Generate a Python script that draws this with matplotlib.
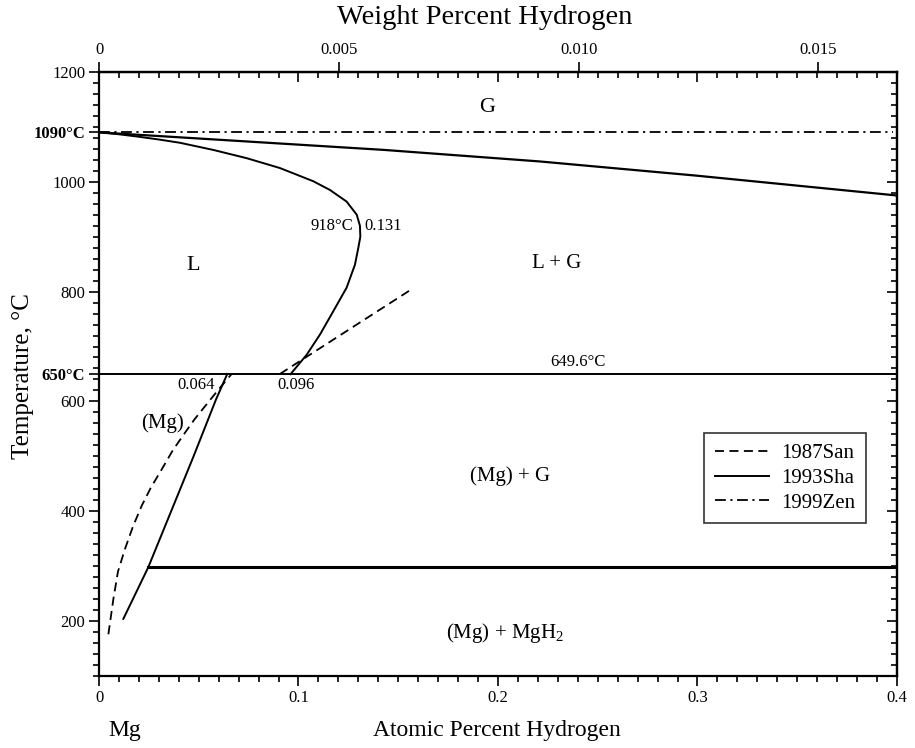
import matplotlib.pyplot as plt
from matplotlib.ticker import MultipleLocator
import numpy as np

plt.rcParams['font.family'] = ['Liberation Serif', 'DejaVu Serif']
plt.rcParams['mathtext.fontset'] = 'custom'
plt.rcParams['mathtext.rm'] = 'Liberation Serif'

# 1993Sha: liquidus (L / L+G boundary), at.% H vs T
liq_at = [0, 0.01, 0.02, 0.03, 0.0406, 0.0573, 0.074, 0.0907, 0.1074, 0.1158, 0.1241,
          0.1292, 0.1308, 0.1310, 0.1300, 0.1283, 0.1241, 0.1174, 0.1108, 0.1041, 0.096]
liq_T = [1090, 1086.5, 1082, 1077, 1071, 1058, 1043, 1025, 1001, 985, 964,
         940, 920, 900, 880, 849, 807, 764, 722, 685, 649.6]

# 1993Sha: G / L+G boundary
gas_at = [0, 0.143, 0.221, 0.3, 0.4]
gas_T = [1090, 1058, 1037, 1011, 975]

# 1993Sha: (Mg) solvus
sha_sol_at = [0.0122, 0.0247, 0.0365, 0.0474, 0.0587, 0.0643]
sha_sol_T = [204, 298, 403, 500, 604, 650]

# 1987San: solvus and liquidus
san_sol_at = [0.0047, 0.0072, 0.0095, 0.013, 0.017, 0.0214, 0.026, 0.0314,
              0.037, 0.0431, 0.048, 0.0531, 0.060, 0.0665]
san_sol_T = [176, 240, 290, 331, 372, 410, 443, 476,
             511, 543, 568, 591, 622, 650]
san_liq_at = [0.0907, 0.157]
san_liq_T = [650, 805]

# 1999Zen: boiling point line
zen_at = [0, 0.398]
zen_T = [1090, 1090]

# invariant lines
eutectic_at = [0, 0.4]
eutectic_T = [649.6, 649.6]
eutectoid_at = [0.0247, 0.4]
eutectoid_T = [298, 298]

ytick_vals = [200, 400, 600, 650, 800, 1000, 1090, 1200]
ytick_labels = ['200', '400', '600', '650°C', '800', '1000', '1090°C', '1200']
xtick_vals = [0, 0.1, 0.2, 0.3, 0.4]
xtick_labels = ['0', '0.1', '0.2', '0.3', '0.4']
wt_ticks = [0, 0.005, 0.010, 0.015]
wt_labels = ['0', '0.005', '0.010', '0.015']

M_H, M_MG = 1.008, 24.305


def at2wt(x):
    x = np.asarray(x, dtype=float)
    return 100 * x * M_H / (x * M_H + (100 - x) * M_MG)


def wt2at(w):
    w = np.asarray(w, dtype=float)
    return 100 * (w / M_H) / (w / M_H + (100 - w) / M_MG)


fig = plt.figure(figsize=(9.15, 7.48), dpi=100)
ax = fig.add_axes([0.1082, 0.0963, 0.8721, 0.8075])

dash = (0, (5, 3))
dashdot = (0, (6, 2.5, 1.2, 2.5))

ax.plot(san_sol_at, san_sol_T, color='black', lw=1.3, ls=dash, label='1987San')
ax.plot(san_liq_at, san_liq_T, color='black', lw=1.3, ls=dash)
ax.plot(liq_at, liq_T, color='black', lw=1.4, label='1993Sha')
ax.plot(gas_at, gas_T, color='black', lw=1.6)
ax.plot(sha_sol_at, sha_sol_T, color='black', lw=1.4)
ax.plot(eutectic_at, eutectic_T, color='black', lw=1.4)
ax.plot(eutectoid_at, eutectoid_T, color='black', lw=2.2)
ax.plot(zen_at, zen_T, color='black', lw=1.3, ls=dashdot, label='1999Zen')

ax.set_xlim(0, 0.4)
ax.set_ylim(100, 1200)

ax.set_xticks(xtick_vals, labels=xtick_labels)
ax.xaxis.set_minor_locator(MultipleLocator(0.01))
ax.set_yticks(ytick_vals, labels=ytick_labels)
ax.yaxis.set_minor_locator(MultipleLocator(20))
for t in ax.get_yticklabels():
    if '°C' in t.get_text():
        t.set_fontweight('bold')
ax.tick_params(which='both', direction='out', labelsize=12, width=1.2, pad=3)
ax.tick_params(which='major', length=7)
ax.tick_params(which='minor', length=4)

for s in ax.spines.values():
    s.set_linewidth(1.6)

# top: weight percent scale (outward) + mirrored atomic ticks (inward)
top = ax.secondary_xaxis('top', functions=(at2wt, wt2at))
top.set_xticks(wt_ticks, labels=wt_labels)
top.tick_params(direction='out', length=7, width=1.2, labelsize=12, pad=3)
top.spines['top'].set_linewidth(1.6)

top_in = ax.secondary_xaxis('top')
top_in.set_xticks(xtick_vals)
top_in.xaxis.set_minor_locator(MultipleLocator(0.01))
top_in.tick_params(which='both', direction='in', labeltop=False, width=1.2)
top_in.tick_params(which='major', length=7)
top_in.tick_params(which='minor', length=4)

right_in = ax.secondary_yaxis('right')
right_in.set_yticks([200, 400, 600, 800, 1000, 1200])
right_in.yaxis.set_minor_locator(MultipleLocator(20))
right_in.tick_params(which='both', direction='in', labelright=False, width=1.2)
right_in.tick_params(which='major', length=7)
right_in.tick_params(which='minor', length=4)
right_in.spines['right'].set_linewidth(1.6)

# phase labels
ax.text(0.1945, 1136, 'G', fontsize=16, ha='center', va='center')
ax.text(0.0471, 847, 'L', fontsize=16, ha='center', va='center')
ax.text(0.2296, 851, 'L + G', fontsize=15, ha='center', va='center')
ax.text(0.0316, 560, '(Mg)', fontsize=15, ha='center', va='center')
ax.text(0.206, 464, '(Mg) + G', fontsize=15, ha='center', va='center')
ax.text(0.2035, 178, '(Mg) + MgH$_\\mathregular{2}$', fontsize=15, ha='center', va='center')

# point labels
ax.text(0.1273, 920, '918°C', fontsize=12, ha='right', va='center')
ax.text(0.1328, 920, '0.131', fontsize=12, ha='left', va='center')
ax.text(0.2401, 671, '649.6°C', fontsize=12, ha='center', va='center')
ax.text(0.0486, 629, '0.064', fontsize=12, ha='center', va='center')
ax.text(0.0987, 629, '0.096', fontsize=12, ha='center', va='center')

leg = ax.legend(loc='upper right', bbox_to_anchor=(0.961, 0.402), fontsize=15,
                frameon=True, fancybox=False, edgecolor='black', handlelength=2.6,
                handletextpad=0.6, labelspacing=0.25, borderpad=0.5,
                borderaxespad=0)
leg.get_frame().set_linewidth(1.2)

fig.text(0.530, 0.977, 'Weight Percent Hydrogen', fontsize=20.5, ha='center', va='center')
fig.text(0.543, 0.024, 'Atomic Percent Hydrogen', fontsize=17, ha='center', va='center')
fig.text(0.1366, 0.024, 'Mg', fontsize=17, ha='center', va='center')
fig.text(0.025, 0.497, 'Temperature, °C', fontsize=18, ha='center', va='center', rotation=90)

fig.savefig('out.png', dpi=100)
